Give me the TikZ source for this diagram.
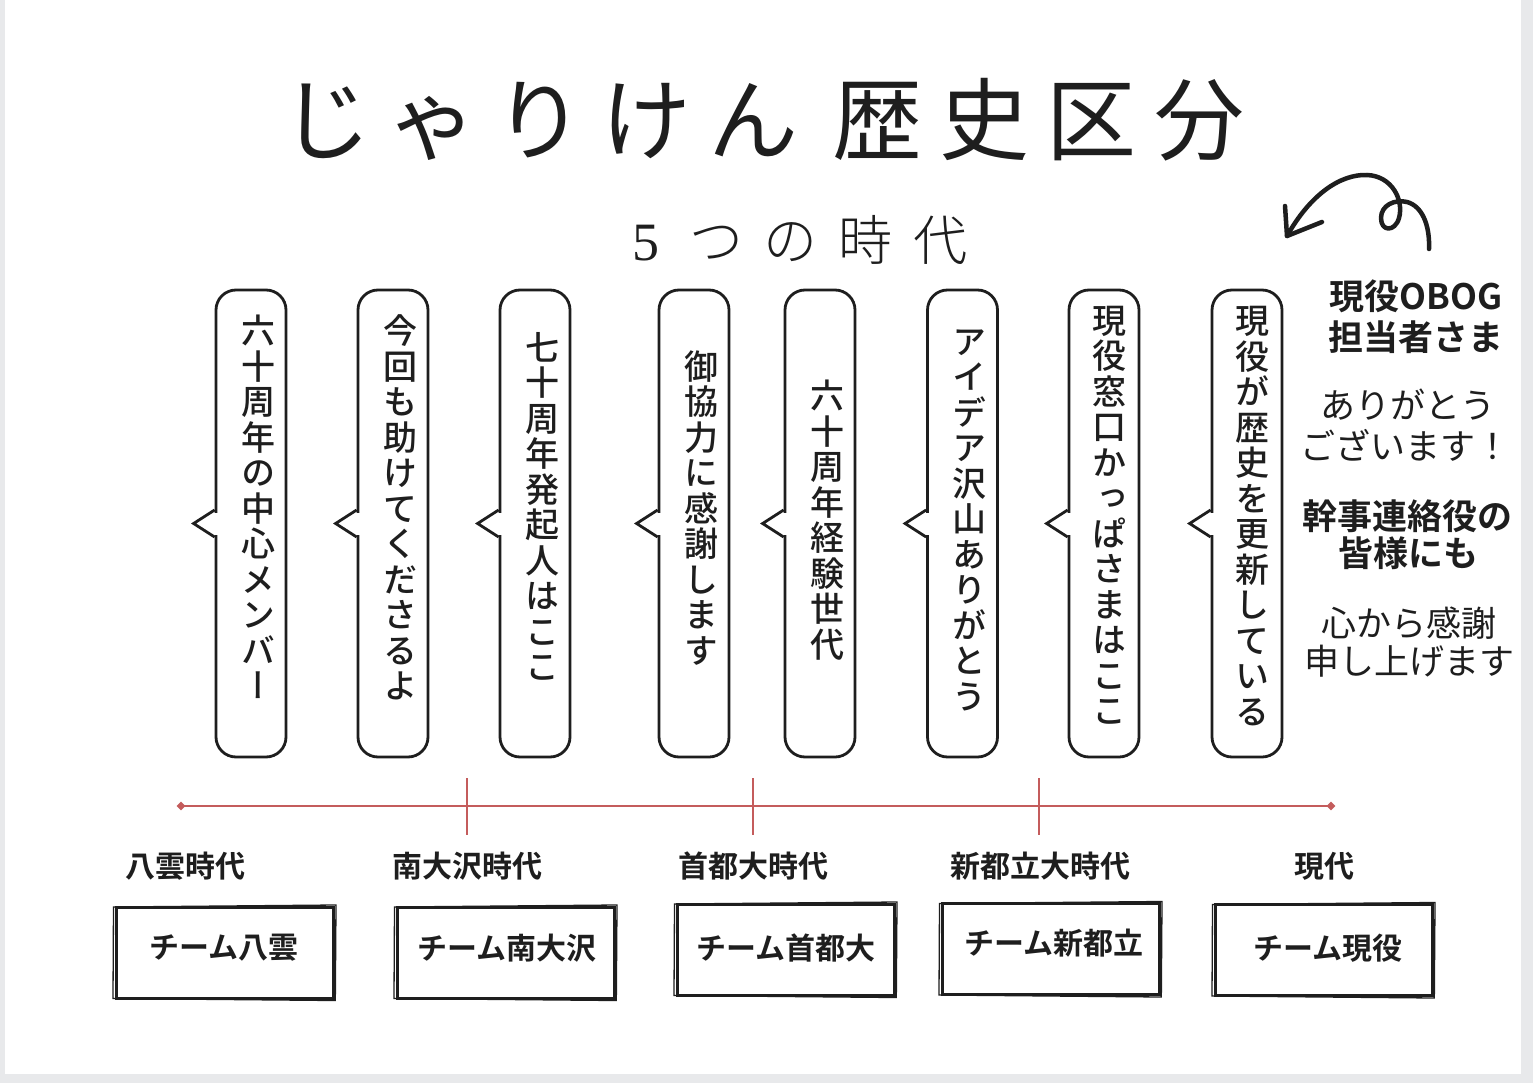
\documentclass[tikz,border=0pt]{standalone}
\usepackage{fontspec}
\setmainfont{Noto Sans CJK JP}
\newfontfamily\jpR{Noto Sans CJK JP}
\newfontfamily\jpL{Noto Sans CJK JP Light}
\newfontfamily\jpB{Noto Sans CJK JP Bold}
\newfontfamily\jpV[RawFeature=+vert]{Noto Sans CJK JP Medium}
\newfontfamily\serifL{Liberation Serif}
\usetikzlibrary{shapes.geometric}
\definecolor{ink}{HTML}{1E1E1E}
\definecolor{tlred}{RGB}{196,92,92}
\definecolor{edgegrey}{HTML}{E8E9EB}
\begin{document}
\begin{tikzpicture}[x=1pt,y=-1pt,
  bubble/.style={draw=ink, line width=2.8pt, rounded corners=20pt, fill=white,
    minimum width=70pt, minimum height=467pt, inner sep=0pt},
  tailline/.style={draw=ink, line width=2.8pt, line join=miter},
  vtext/.style={font=\jpV\fontsize{34}{35.5}\selectfont, align=center, text=ink, inner sep=0pt},
  era/.style={font=\jpB\fontsize{30}{36}\selectfont, text=ink, inner sep=0pt},
  teambox/.style={draw=ink, line width=3pt, minimum width=217pt, minimum height=91pt, inner sep=0pt},
  sketch/.style={draw=ink, line width=1.3pt},
  teamtext/.style={font=\jpB\fontsize{30}{36}\selectfont, text=ink, inner sep=0pt},
  thankB/.style={font=\jpB\fontsize{35}{40}\selectfont, text=ink, inner sep=0pt},
  thankL/.style={font=\jpR\fontsize{35}{40}\selectfont, text=ink, inner sep=0pt},
  tl/.style={draw=tlred, line width=1.8pt},
  tlend/.style={diamond, fill=tlred, minimum size=9pt, inner sep=0pt},
  curl/.style={draw=ink, line width=4.5pt, line cap=round, line join=round}
]
\useasboundingbox (0,0) rectangle (1533,1083);
\fill[edgegrey] (0,0) rectangle (1533,1083);
\fill[white] (5,0) rectangle (1521,1074);

% title
\node[font=\jpR\fontsize{90}{100}\selectfont, text=ink, inner sep=0pt] (title) at (762.5,120)
  {じ\kern17pt ゃ\kern17pt り\kern17pt け\kern17pt ん\kern34pt 歴\kern17pt 史\kern17pt 区\kern17pt 分};
\node[font=\jpL\fontsize{54}{60}\selectfont, text=ink, inner sep=0pt] (subtitle) at (800,240)
  {{\serifL 5}\kern30pt つ\kern21pt の\kern21pt 時\kern21pt 代};

% curly arrow
\coordinate (arrT) at (1287,236);
\coordinate (arrS) at (1429,249);
\coordinate (arrA) at (1285,206);
\coordinate (arrB) at (1322,222);
\draw[curl] (arrT) .. controls (1310,195) and (1340,174) .. (1367,175)
  .. controls (1392,176) and (1404,200) .. (1399,218)
  .. controls (1395,232) and (1381,232) .. (1381,218)
  .. controls (1381,205) and (1395,199) .. (1407,202)
  .. controls (1422,206) and (1430,225) .. (arrS);
\draw[curl] (arrA) -- (arrT) -- (arrB);

% speech bubbles
\foreach \n/\cx in {1/251,2/393,3/535,4/694,5/820,6/962.5,7/1104,8/1247}{
  \node[bubble] (b\n) at (\cx,523.5) {};
  \fill[white] ([xshift=-3pt,yshift=11pt]b\n.west) rectangle ([xshift=3pt,yshift=-11pt]b\n.west);
  \draw[tailline] ([yshift=13.5pt]b\n.west) -- ([xshift=-21pt]b\n.west) -- ([yshift=-13.5pt]b\n.west);
}
\node[vtext] (t1) at (258,507) {六\\十\\周\\年\\の\\中\\心\\メ\\ン\\バ\\ー};
\node[vtext] (t2) at (400,507.5) {今\\回\\も\\助\\け\\て\\く\\だ\\さ\\る\\よ};
\node[vtext] (t3) at (542,506.5) {七\\十\\周\\年\\発\\起\\人\\は\\こ\\こ};
\node[vtext] (t4) at (701,508) {御\\協\\力\\に\\感\\謝\\し\\ま\\す};
\node[vtext] (t5) at (827,520) {六\\十\\周\\年\\経\\験\\世\\代};
\node[vtext] (t6) at (969,520) {ア\\イ\\デ\\ア\\沢\\山\\あ\\り\\が\\と\\う};
\node[vtext] (t7) at (1109,515.5) {現\\役\\窓\\口\\か\\っ\\ぱ\\さ\\ま\\は\\こ\\こ};
\node[vtext] (t8) at (1252,516) {現\\役\\が\\歴\\史\\を\\更\\新\\し\\て\\い\\る};

% right thanks block
\node[thankB] (r1) at (1416,296) {現役OBOG};
\node[thankB] (r2) at (1416,337) {担当者さま};
\node[thankL] (r3) at (1408,405) {ありがとう};
\node[thankL] (r4) at (1405,445) {ございます！};
\node[thankB] (r5) at (1407,516) {幹事連絡役の};
\node[thankB] (r6) at (1408,553) {皆様にも};
\node[thankL] (r7) at (1409,623) {心から感謝};
\node[thankL] (r8) at (1409,661) {申し上げます};

% timeline
\coordinate (tlL) at (181,806);
\coordinate (tlR) at (1331,806);
\draw[tl] (tlL) -- (tlR);
\node[tlend] (dL) at (tlL) {};
\node[tlend] (dR) at (tlR) {};
\foreach \k/\x in {1/467,2/753,3/1039}{
  \coordinate (k\k a) at (\x,778);
  \coordinate (k\k b) at (\x,835);
  \draw[tl] (k\k a) -- (k\k b);
}

% era labels
\node[era] (e1) at (185,866) {八雲時代};
\node[era] (e2) at (467,866) {南大沢時代};
\node[era] (e3) at (753,866) {首都大時代};
\node[era] (e4) at (1040,866) {新都立大時代};
\node[era] (e5) at (1324,866) {現代};

% team boxes
\node[teambox] (bx1) at (224.5,952.5) {};
\node[teambox] (bx2) at (505.5,952.5) {};
\node[teambox] (bx3) at (785.5,949.5) {};
\node[teambox] (bx4) at (1050.5,949) {};
\node[teambox] (bx5) at (1323.5,950) {};
\foreach \b in {bx1,bx2,bx3,bx4,bx5}{
  \draw[sketch] ([shift={(-1pt,-1.5pt)}]\b.north west) -- ([shift={(1.5pt,0.5pt)}]\b.north east)
    -- ([shift={(0.8pt,-1pt)}]\b.south east) -- ([shift={(-1.5pt,1pt)}]\b.south west) -- cycle;
}
\node[teamtext] (bt1) at (224,948) {チーム八雲};
\node[teamtext] (bt2) at (507,948) {チーム南大沢};
\node[teamtext] (bt3) at (786,948) {チーム首都大};
\node[teamtext] (bt4) at (1054,943) {チーム新都立};
\node[teamtext] (bt5) at (1328,948) {チーム現役};
\end{tikzpicture}
\end{document}
